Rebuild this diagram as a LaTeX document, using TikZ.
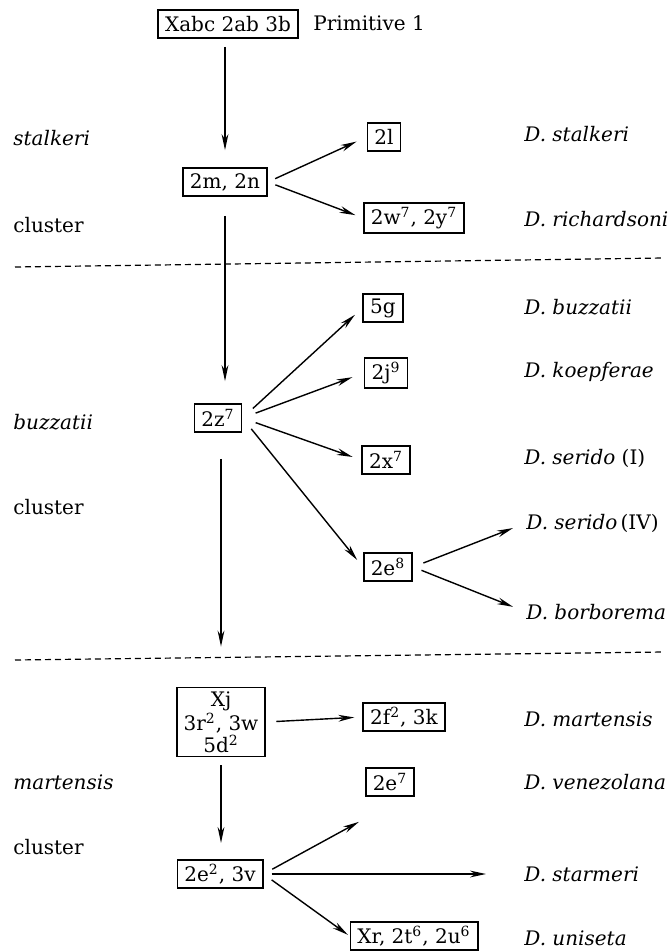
\documentclass[tikz,border=0pt]{standalone}
\usepackage{fontspec}
\setmainfont{DejaVu Serif}
\usetikzlibrary{arrows.meta}

\begin{document}
\begin{tikzpicture}[x=0.5pt,y=-0.5pt,font=\fontsize{10}{11}\selectfont,
    invBox/.style={draw,line width=0.9pt,inner xsep=3.5pt,inner ysep=2pt,minimum height=14pt},
    invArr/.style={-{Stealth[length=8pt,width=3.4pt]},line width=0.7pt},
    invSp/.style={anchor=west,inner sep=0pt,font=\fontsize{10}{11}\selectfont\itshape},
    invGrp/.style={anchor=west,inner sep=0pt},
    invSep/.style={dash pattern=on 3pt off 2pt,line width=0.6pt},
]
\useasboundingbox (0,0) rectangle (672,951);
% stalkeri cluster
\node[invBox] (top) at (228,24) {Xabc 2ab 3b};
\node[invGrp] (prim) at (313,23) {Primitive 1};
\node[invGrp,font=\fontsize{10}{11}\selectfont\itshape] (gStal) at (13,138) {stalkeri};
\node[invGrp] (gStalC) at (13,225) {cluster};
\node[invBox] (pair) at (225,182) {2m, 2n};
\node[invBox] (l2) at (384,137) {2l};
\node[invBox] (wy) at (414,218) {2w\textsuperscript{7}, 2y\textsuperscript{7}};
\node[invSp] (sStal) at (524,134) {D. stalkeri};
\node[invSp] (sRich) at (524,219) {D. richardsoni};
\draw[invArr,shorten <=4pt,shorten >=8.5pt] (top.south -| pair.north) -- (pair.north);
\draw[invArr,shorten <=4pt,shorten >=5.5pt] (pair.east) -- (l2.west);
\draw[invArr,shorten <=4pt,shorten >=4pt] (pair.east) -- (wy.west);
\draw[invSep] (15,267) -- (664,258);
% buzzatii cluster
\node[invGrp,font=\fontsize{10}{11}\selectfont\itshape] (gBuzz) at (13,422) {buzzatii};
\node[invGrp] (gBuzzC) at (13,507) {cluster};
\node[invBox] (bz) at (218,418) {2z\textsuperscript{7}};
\node[invBox] (g5) at (383,308) {5g};
\node[invBox] (j2) at (386,373) {2j\textsuperscript{9}};
\node[invBox] (x2) at (386,460) {2x\textsuperscript{7}};
\node[invBox] (e8) at (388,567) {2e\textsuperscript{8}};
\node[invSp] (sBuzz) at (524,307) {D. buzzatii};
\node[invSp] (sKoep) at (524,372) {D. koepferae};
\node[invGrp] (sSerI) at (524,458) {\textit{D. serido} (I)};
\node[invGrp] (sSerIV) at (526,523) {\textit{D. serido}\,(IV)};
\node[invSp] (sBorb) at (526,612) {D. borborema};
\draw[invArr,shorten <=9.5pt,shorten >=11pt] (pair.south) -- (pair.south |- bz.north);
\draw[invArr,shorten <=7pt,shorten >=5pt] (bz.east) -- (g5.west);
\draw[invArr,shorten <=7pt,shorten >=6pt] (bz.east) -- (j2.west);
\draw[invArr,shorten <=7pt,shorten >=4.5pt] (bz.east) -- (x2.west);
\draw[invArr,shorten <=7pt,shorten >=4.5pt] (bz.east) -- (e8.west);
\draw[invArr,shorten <=5.5pt,shorten >=7pt] (e8.east) -- (sSerIV.west);
\draw[invArr,shorten <=4.5pt,shorten >=7pt] (e8.east) -- (sBorb.west);
\draw[invSep] (15,660) -- (664,652);
% martensis cluster
\node[invBox,align=center] (mt) at (221,722) {Xj\\3r\textsuperscript{2}, 3w\\5d\textsuperscript{2}};
\node[invBox] (f2) at (404,717) {2f\textsuperscript{2}, 3k};
\node[invBox] (e7) at (390,782) {2e\textsuperscript{7}};
\node[invBox] (ms) at (220,874) {2e\textsuperscript{2}, 3v};
\node[invBox] (xr) at (414,936) {Xr, 2t\textsuperscript{6}, 2u\textsuperscript{6}};
\node[invGrp,font=\fontsize{10}{11}\selectfont\itshape] (gMart) at (13,782) {martensis};
\node[invGrp] (gMartC) at (13,847) {cluster};
\node[invSp] (sMart) at (524,719) {D. martensis};
\node[invSp] (sVene) at (524,782) {D. venezolana};
\node[invSp] (sStar) at (524,874) {D. starmeri};
\node[invSp] (sUnis) at (524,938) {D. uniseta};
\draw[invArr,shorten <=13pt,shorten >=20pt] (bz.south -| mt.north) -- (mt.north);
\draw[invArr,shorten <=5pt,shorten >=4pt] (mt.east) -- (f2.west);
\draw[invArr,shorten <=4pt,shorten >=8pt] (mt.south) -- (mt.south |- ms.north);
\draw[invArr,shorten <=5pt] (ms.east) -- ([shift={(-6,25)}]e7.south west);
\draw[invArr,shorten <=4pt,shorten >=19pt] (ms.east) -- (sStar.west);
\draw[invArr,shorten <=5pt,shorten >=1pt] (ms.east) -- (xr.west);
\end{tikzpicture}
\end{document}
